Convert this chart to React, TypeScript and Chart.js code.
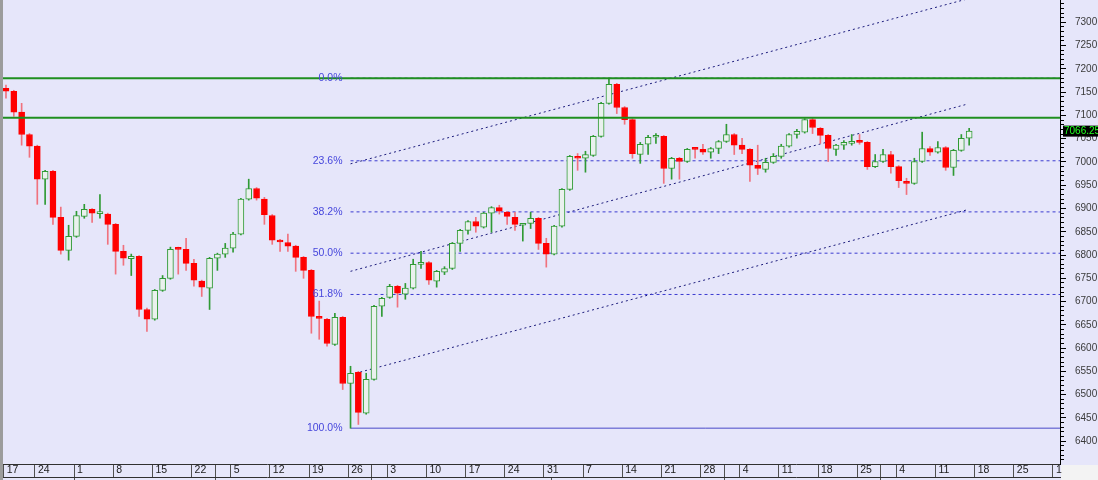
import { useEffect, useRef } from 'react';
import Chart from 'chart.js/auto';

// daily candles
const opens = [
  7158, 7152, 7107, 7059, 7034, 6963, 6980, 6881, 6810, 6840,
  6883, 6898, 6889, 6888, 6866, 6808, 6792, 6797, 6683, 6662,
  6724, 6750, 6815, 6812, 6782, 6744, 6729, 6793, 6802, 6815,
  6845, 6920, 6943, 6920, 6885, 6832, 6827, 6819, 6795, 6767,
  6668, 6662, 6608, 6666, 6524, 6548, 6460, 6533, 6690, 6709,
  6733, 6716, 6729, 6780, 6784, 6744, 6763, 6771, 6825, 6853,
  6872, 6860, 6890, 6902, 6892, 6881, 6864, 6868, 6879, 6825,
  6802, 6862, 6941, 7012, 7008, 7014, 7055, 7126, 7167, 7117,
  7091, 7016, 7038, 7053, 7055, 6986, 7008, 7001, 7029, 7027,
  7021, 7029, 7044, 7059, 7036, 7027, 6993, 6984, 6999, 7012,
  7034, 7059, 7064, 7091, 7072, 7057, 7027, 7036, 7040, 7046,
  7042, 6990, 7001, 7016, 6990, 6958, 6954, 7001, 7029, 7021,
  7031, 6988, 7025, 7051,
];
const highs = [
  7165, 7154, 7126, 7061, 7036, 6982, 6982, 6903, 6864, 6894,
  6909, 6900, 6930, 6890, 6868, 6821, 6802, 6799, 6686, 6726,
  6756, 6817, 6817, 6836, 6791, 6746, 6795, 6804, 6825, 6849,
  6922, 6963, 6945, 6924, 6887, 6834, 6845, 6821, 6797, 6769,
  6701, 6664, 6675, 6668, 6561, 6550, 6546, 6692, 6709, 6737,
  6735, 6739, 6791, 6808, 6786, 6767, 6775, 6827, 6855, 6874,
  6881, 6892, 6904, 6907, 6894, 6892, 6868, 6892, 6881, 6836,
  6864, 6943, 7014, 7018, 7023, 7057, 7128, 7180, 7169, 7119,
  7093, 7042, 7057, 7061, 7057, 7010, 7010, 7029, 7031, 7038,
  7031, 7046, 7081, 7061, 7051, 7029, 7036, 7008, 7018, 7038,
  7061, 7070, 7093, 7094, 7074, 7059, 7038, 7046, 7059, 7059,
  7044, 7016, 7027, 7023, 6992, 6965, 7008, 7064, 7033, 7044,
  7033, 7027, 7059, 7072,
];
const lows = [
  7137, 7098, 7036, 7010, 6909, 6909, 6866, 6802, 6789, 6838,
  6879, 6870, 6879, 6823, 6759, 6778, 6756, 6668, 6636, 6660,
  6722, 6748, 6759, 6767, 6733, 6711, 6683, 6767, 6795, 6806,
  6843, 6918, 6918, 6866, 6823, 6808, 6808, 6765, 6750, 6632,
  6619, 6604, 6606, 6511, 6428, 6436, 6458, 6531, 6668, 6707,
  6688, 6705, 6727, 6771, 6737, 6731, 6758, 6769, 6808, 6845,
  6849, 6858, 6849, 6888, 6866, 6853, 6830, 6857, 6812, 6774,
  6800, 6860, 6939, 6982, 6978, 7012, 7053, 7124, 7104, 7081,
  7008, 6997, 7016, 7040, 6954, 6963, 6963, 6999, 7008, 7016,
  7008, 7018, 7042, 7016, 7018, 6958, 6973, 6978, 6997, 7008,
  7032, 7051, 7062, 7061, 7040, 7001, 7014, 7027, 7036, 7038,
  6984, 6988, 6999, 6976, 6945, 6930, 6952, 6999, 7014, 7019,
  6982, 6971, 7023, 7036,
];
const closes = [
  7152, 7107, 7059, 7034, 6963, 6980, 6881, 6810, 6840, 6885,
  6898, 6890, 6891, 6866, 6808, 6793, 6797, 6683, 6662, 6724,
  6750, 6812, 6812, 6782, 6746, 6731, 6793, 6802, 6815, 6845,
  6920, 6943, 6922, 6887, 6832, 6828, 6819, 6795, 6767, 6668,
  6664, 6610, 6666, 6524, 6546, 6462, 6533, 6690, 6707, 6733,
  6718, 6729, 6780, 6784, 6746, 6765, 6771, 6825, 6853, 6872,
  6862, 6890, 6902, 6894, 6883, 6866, 6866, 6879, 6825, 6802,
  6862, 6941, 7012, 7008, 7016, 7055, 7126, 7167, 7117, 7091,
  7018, 7038, 7053, 7055, 6986, 7008, 7001, 7027, 7027, 7021,
  7029, 7044, 7059, 7036, 7027, 6993, 6986, 6999, 7012, 7034,
  7059, 7066, 7091, 7074, 7057, 7029, 7036, 7042, 7044, 7042,
  6990, 7001, 7016, 6990, 6960, 6954, 7001, 7029, 7021, 7031,
  6988, 7025, 7051, 7066.25,
];

// date row
const weekLabels = ['17', '24', '1', '8', '15', '22', '5', '12', '19', '26', '3', '10', '17', '24',
  '31', '7', '14', '21', '28', '4', '11', '18', '25', '4', '11', '18', '25', '1'];
const weekStarts = [0, 4, 9, 14, 19, 24, 29, 34, 39, 44, 49, 54, 59, 64,
  69, 74, 79, 84, 89, 94, 99, 104, 109, 114, 119, 124, 129, 134];
const rowSeparators = [27, 47, 92, 112];
const monthStarts = [9, 27, 47, 70, 92, 112];

// studies
const fibRatios = [0, 0.236, 0.382, 0.5, 0.618, 1];
const fibStart = 44;
const resistanceLevels = [7180, 7095];
const channelX = [44, 122.7];
const channelUpper = [6996, 7350];
const channelMiddle = [6765, 7124];
const channelLower = [6543, 6897];

const xMin = -0.38;
const xMax = 134.6;
const yMin = 6351;
const yMax = 7348;

const swingHigh = Math.max(...highs);
const swingLow = Math.min(...lows);
const fibLevel = (r: number) => swingHigh - (swingHigh - swingLow) * r;

const FONT = '"Liberation Sans", Arial, sans-serif';
const UP_LINE = '#2f9a34';
const UP_FILL = '#eaf1ee';
const DOWN = '#ff0000';
const DOWN_WICK = '#f0727e';

const isUp = (i: number) => closes[i] >= opens[i];

const xTickItems = [
  ...weekStarts.map((s, k) => ({ value: s - 0.3, label: weekLabels[k] })),
  ...rowSeparators.map((s) => ({ value: s - 0.3, label: '' })),
].sort((a, b) => a.value - b.value);

const bgPlugin = {
  id: 'bgFill',
  beforeDraw(chart: any) {
    const { ctx, chartArea } = chart;
    ctx.save();
    ctx.fillStyle = '#e6e6fa';
    ctx.fillRect(0, 0, chart.width, chart.height);
    ctx.fillStyle = '#f3f3f3';
    ctx.fillRect(chartArea.right + 1, chartArea.bottom + 1, chart.width, chart.height);
    ctx.restore();
  },
};

const overlayPlugin = {
  id: 'overlay',
  afterDatasetsDraw(chart: any) {
    const { ctx } = chart;
    const { x, y } = chart.scales;
    ctx.save();
    ctx.font = '10.5px ' + FONT;
    ctx.fillStyle = '#4646dc';
    ctx.textAlign = 'right';
    ctx.textBaseline = 'middle';
    const lx = x.getPixelForValue(fibStart) - 8;
    fibRatios.forEach((r) => {
      ctx.fillText((r * 100).toFixed(1) + '%', lx, y.getPixelForValue(fibLevel(r)));
    });
    ctx.restore();
  },
  afterDraw(chart: any) {
    const { ctx, chartArea } = chart;
    const y = chart.scales.y;
    const last = closes[closes.length - 1];
    const py = y.getPixelForValue(last);
    ctx.save();
    ctx.fillStyle = '#000';
    ctx.fillRect(chartArea.right + 3, py - 5.5, chart.width - chartArea.right, 11);
    ctx.fillStyle = '#22ff22';
    ctx.font = '10px ' + FONT;
    ctx.textAlign = 'left';
    ctx.textBaseline = 'middle';
    ctx.fillText(last.toFixed(2), chartArea.right + 4, py + 0.5);
    ctx.restore();
  },
};

function lineSet(pts: { x: number; y: number }[], color: string, dash: number[], width = 1, order = 5) {
  return {
    type: 'line' as const,
    data: pts,
    borderColor: color,
    borderWidth: width,
    borderDash: dash,
    pointRadius: 0,
    fill: false,
    tension: 0,
    order,
  };
}

export default function App() {
  const canvasRef = useRef<HTMLCanvasElement | null>(null);

  useEffect(() => {
    const canvas = canvasRef.current;
    if (!canvas) return;

    const fibSets = fibRatios.map((r) =>
      lineSet(
        [{ x: fibStart, y: fibLevel(r) }, { x: xMax, y: fibLevel(r) }],
        r === 1 ? '#4a4ac8' : '#3c3cd0',
        r === 1 ? [] : [3, 3],
      ),
    );
    const channelSets = [channelUpper, channelMiddle, channelLower].map((c) =>
      lineSet([{ x: channelX[0], y: c[0] }, { x: channelX[1], y: c[1] }], '#1c1c7c', [2, 3]),
    );
    const resistanceSets = resistanceLevels.map((lvl) =>
      lineSet([{ x: xMin, y: lvl }, { x: xMax, y: lvl }], '#1f8f1f', [], 2, 1),
    );

    const chart = new Chart(canvas, {
      type: 'bar',
      data: {
        datasets: [
          ...fibSets,
          ...channelSets,
          {
            type: 'bar',
            data: lows.map((l, i) => ({ x: i, y: [l, highs[i]] })),
            backgroundColor: (c: any) => (isUp(c.dataIndex) ? UP_LINE : DOWN_WICK),
            borderWidth: 0,
            barThickness: 1,
            grouped: false,
            order: 3,
          },
          {
            type: 'bar',
            data: opens.map((o, i) => ({ x: i, y: [o, closes[i]] })),
            backgroundColor: (c: any) => (isUp(c.dataIndex) ? UP_FILL : DOWN),
            borderColor: (c: any) => (isUp(c.dataIndex) ? UP_LINE : DOWN),
            borderWidth: 1,
            borderSkipped: false,
            barThickness: 6,
            minBarLength: 2,
            grouped: false,
            order: 2,
          },
          ...resistanceSets,
        ] as any,
      },
      options: {
        animation: false,
        responsive: false,
        events: [],
        layout: { padding: 0 },
        plugins: { legend: { display: false }, tooltip: { enabled: false } },
        scales: {
          x: {
            type: 'linear',
            position: 'bottom',
            weight: 0,
            min: xMin,
            max: xMax,
            offset: false,
            grid: { drawOnChartArea: false, offset: false, tickLength: 13, color: '#505050' },
            border: { display: true, color: '#303030' },
            afterBuildTicks: (s: any) => {
              s.ticks = xTickItems.map((t) => ({ value: t.value }));
            },
            ticks: {
              autoSkip: false,
              maxRotation: 0,
              align: 'start',
              padding: -13,
              labelOffset: 3,
              color: '#1a1a1a',
              font: { family: FONT, size: 10.5 },
              callback: (_v: any, i: number) => xTickItems[i]?.label ?? '',
            },
            afterFit: (s: any) => {
              s.height = 13;
              s.paddingLeft = 0;
              s.paddingRight = 0;
            },
          },
          xm: {
            type: 'linear',
            position: 'bottom',
            weight: 1,
            min: xMin,
            max: xMax,
            offset: false,
            grid: { drawOnChartArea: false, offset: false, tickLength: 8, color: '#505050' },
            border: { display: true, color: '#303030' },
            afterBuildTicks: (s: any) => {
              s.ticks = monthStarts.map((m) => ({ value: m - 0.3 }));
            },
            ticks: { display: false },
            afterFit: (s: any) => {
              s.height = 3;
              s.paddingLeft = 0;
              s.paddingRight = 0;
            },
          },
          y: {
            type: 'linear',
            position: 'right',
            min: yMin,
            max: yMax,
            beginAtZero: false,
            grid: {
              drawOnChartArea: false,
              tickLength: 6,
              color: '#000',
              tickBorderDash: (c: any) => (c.tick && c.tick.value % 50 === 0 ? [] : [3, 20]),
            },
            border: { display: true, color: '#000' },
            ticks: {
              stepSize: 10,
              maxTicksLimit: 200,
              includeBounds: false,
              autoSkip: false,
              padding: 9,
              color: '#3a3a3a',
              font: { family: FONT, size: 10 },
              callback: (v: any) => (Number(v) % 50 === 0 ? String(v) : ''),
            },
            afterFit: (s: any) => {
              s.width = 38;
              s.paddingTop = 0;
              s.paddingBottom = 0;
            },
          },
        },
      } as any,
      plugins: [bgPlugin, overlayPlugin],
    });

    return () => chart.destroy();
  }, []);

  return (
    <div style={{ position: 'absolute', left: 0, top: 0, width: 1098, height: 480, background: '#9c9c9c' }}>
      <canvas ref={canvasRef} width={1095} height={480} style={{ position: 'absolute', left: 3, top: 0 }} />
    </div>
  );
}
